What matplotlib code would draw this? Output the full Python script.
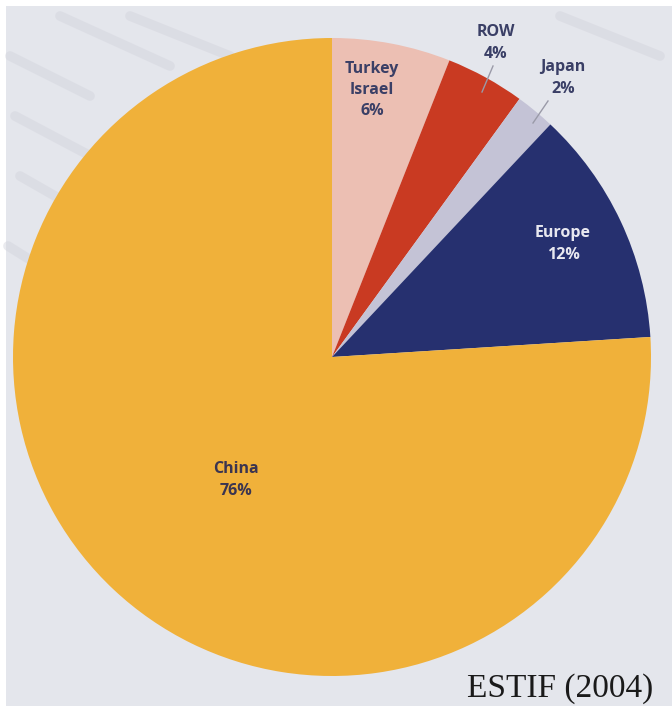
import matplotlib.pyplot as plt
from matplotlib.patches import Rectangle

regions = ["Turkey\nIsrael", "ROW", "Japan", "Europe", "China"]
shares = [6, 4, 2, 12, 76]
colors = ["#ecbfb3", "#c93a22", "#c4c3d6", "#26306f", "#f0b13a"]

W, H = 672, 706
cx, cy, r = 332, H - 357, 319

fig = plt.figure(figsize=(W / 100, H / 100), dpi=100)
fig.patch.set_facecolor("white")
ax = fig.add_axes([0, 0, 1, 1])

# scanned paper background (white margin on top/left)
ax.add_patch(Rectangle((6, 0), W, H - 6, facecolor="#e4e6ec", edgecolor="none", zorder=0))
# faint diagonal streaks of the paper
for x0, y0, x1, y1 in [(10, 650, 90, 610), (15, 590, 100, 545), (60, 690, 170, 640),
                       (20, 530, 90, 490), (130, 690, 230, 650), (560, 690, 660, 650),
                       (8, 460, 40, 440)]:
    ax.plot([x0, x1], [y0, y1], color="#d2d3dc", lw=7, alpha=0.45, solid_capstyle="round", zorder=0)

ax.pie(shares, colors=colors, startangle=90, counterclock=False,
       center=(cx, cy), radius=r, frame=True,
       wedgeprops=dict(linewidth=0, zorder=1))
ax.set_xlim(0, W)
ax.set_ylim(0, H)
ax.set_aspect("equal")
ax.axis("off")

font = ["Open Sans", "DejaVu Sans"]
dark = "#3a3f66"
labels = [f"{n}\n{v}%" for n, v in zip(regions, shares)]
label_pos = [(372, 90), (496, 43), (563, 78), (563, 244), (236, 480)]
label_col = [dark, dark, dark, "#e8e8f0", "#3b3550"]
for txt, (x, y), c in zip(labels, label_pos, label_col):
    ax.text(x, H - y, txt, ha="center", va="center", fontsize=11.5, fontweight="bold",
            color=c, family=font, linespacing=1.45, zorder=3)

# leader lines for the small slices
ax.plot([493, 482], [H - 66, H - 92], color="#9a9aa8", lw=1, zorder=3)
ax.plot([548, 533], [H - 101, H - 123], color="#9a9aa8", lw=1, zorder=3)

ax.text(467, H - 697, "ESTIF (2004)", ha="left", va="baseline", fontsize=24,
        family="Liberation Serif", color="#1a1a1a", zorder=3)

fig.savefig("out.png", dpi=100)
